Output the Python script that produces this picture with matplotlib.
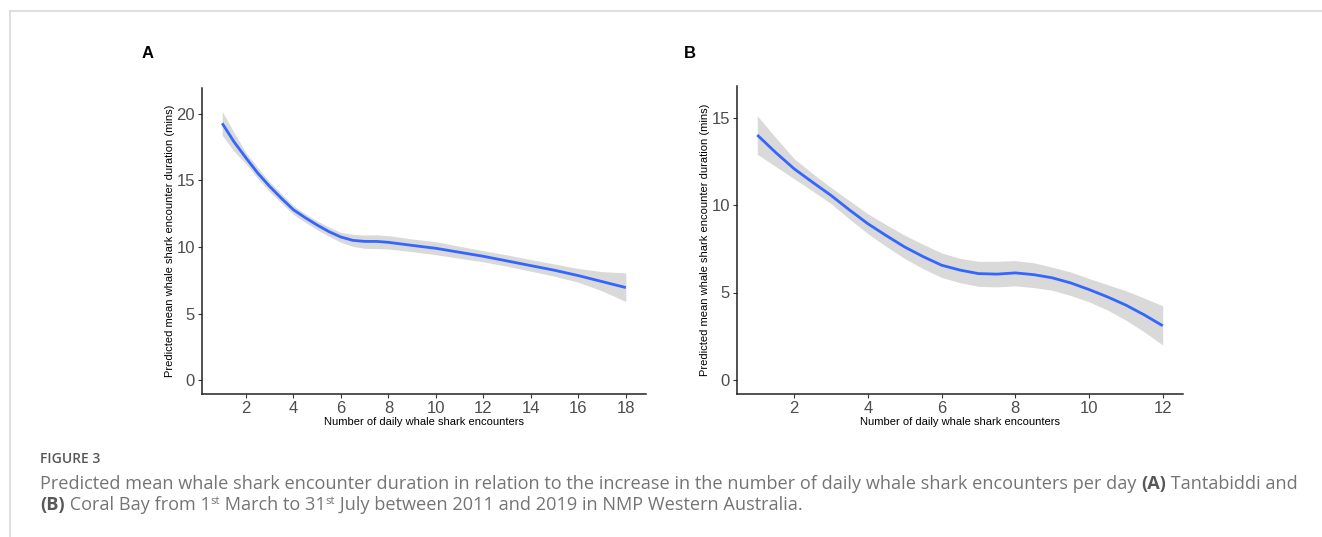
import matplotlib.pyplot as plt
from matplotlib.lines import Line2D

# Panel A - Tantabiddi
xa = [1, 1.5, 2, 2.5, 3, 3.5, 4, 4.5, 5, 5.5, 6, 6.5, 7, 7.5, 8, 9, 10, 11, 12, 13, 14, 15, 16, 17, 18]
ya = [19.3, 17.9, 16.7, 15.55, 14.55, 13.65, 12.8, 12.2, 11.65, 11.15, 10.75, 10.5, 10.42, 10.42, 10.35,
      10.12, 9.9, 9.6, 9.3, 8.95, 8.6, 8.25, 7.85, 7.4, 6.95]
ya_hi = [20.2, 18.6, 17.1, 15.95, 14.9, 14.0, 13.1, 12.5, 11.95, 11.5, 11.1, 10.95, 10.9, 10.92, 10.85,
         10.6, 10.4, 10.05, 9.72, 9.4, 9.05, 8.72, 8.38, 8.15, 8.05]
ya_lo = [18.4, 17.2, 16.25, 15.15, 14.15, 13.3, 12.45, 11.85, 11.3, 10.8, 10.35, 10.05, 9.9, 9.88, 9.85,
         9.65, 9.42, 9.15, 8.88, 8.55, 8.18, 7.8, 7.35, 6.7, 5.9]

# Panel B - Coral Bay
xb = [1, 1.5, 2, 2.5, 3, 3.5, 4, 4.5, 5, 5.5, 6, 6.5, 7, 7.5, 8, 8.5, 9, 9.5, 10, 10.5, 11, 11.5, 12]
yb = [14.0, 13.0, 12.07, 11.3, 10.55, 9.72, 8.93, 8.25, 7.6, 7.05, 6.56, 6.28, 6.08, 6.05, 6.12, 6.02,
      5.84, 5.55, 5.17, 4.75, 4.28, 3.72, 3.1]
yb_hi = [15.1, 13.85, 12.65, 11.8, 11.0, 10.25, 9.5, 8.87, 8.27, 7.75, 7.26, 6.95, 6.78, 6.78, 6.82, 6.7,
         6.45, 6.17, 5.8, 5.45, 5.1, 4.68, 4.24]
yb_lo = [12.9, 12.2, 11.5, 10.8, 10.08, 9.2, 8.36, 7.63, 6.94, 6.36, 5.86, 5.56, 5.35, 5.32, 5.38, 5.28,
         5.13, 4.83, 4.47, 4.0, 3.42, 2.75, 2.0]

xticks_a = [2, 4, 6, 8, 10, 12, 14, 16, 18]
yticks_a = [0, 5, 10, 15, 20]
xticks_b = [2, 4, 6, 8, 10, 12]
yticks_b = [0, 5, 10, 15]

xlabel = "Number of daily whale shark encounters"
ylabel = "Predicted mean whale shark encounter duration (mins)"

plt.rcParams['font.family'] = ['Liberation Sans', 'DejaVu Sans']

W, H = 1322, 537
fig = plt.figure(figsize=(W / 100, H / 100), dpi=100)


def box(l, t, r, b):
    return [l / W, 1 - b / H, (r - l) / W, (b - t) / H]


def panel(rect, x, y, lo, hi, xt, yt, xlim, ylim):
    ax = fig.add_axes(rect)
    ax.fill_between(x, lo, hi, color='#D9D9D9', lw=0)
    ax.plot(x, y, color='#3366FF', lw=2.0, solid_capstyle='butt')
    ax.set_xlim(*xlim)
    ax.set_ylim(*ylim)
    ax.set_xticks(xt)
    ax.set_yticks(yt)
    ax.spines[['top', 'right']].set_visible(False)
    for s in ['left', 'bottom']:
        ax.spines[s].set_linewidth(1.1)
        ax.spines[s].set_color('#222222')
    ax.tick_params(length=3, width=0.8, color='#333333', labelcolor='#4D4D4D', labelsize=12, pad=2)
    ax.set_xlabel(xlabel, fontsize=8, color='black', labelpad=1)
    ax.set_ylabel(ylabel, fontsize=8, color='black', labelpad=1)
    return ax


panel(box(202, 88, 646, 394), xa, ya, ya_lo, ya_hi, xticks_a, yticks_a, (0.15, 18.85), (-1.05, 21.95))
panel(box(737, 86, 1183, 394), xb, yb, yb_lo, yb_hi, xticks_b, yticks_b, (0.45, 12.55), (-0.8, 16.8))

fig.text(148 / W, 1 - 54 / H, 'A', fontsize=12, fontweight='bold', ha='center', va='center')
fig.text(690 / W, 1 - 53 / H, 'B', fontsize=12, fontweight='bold', ha='center', va='center')

# outer frame lines
fig.add_artist(Line2D([10 / W, 1], [1 - 11 / H] * 2, color='#D9D9D9', lw=1.2))
fig.add_artist(Line2D([10 / W] * 2, [0, 1 - 11 / H], color='#D9D9D9', lw=1.2))

# caption
cap_font = ['Open Sans', 'DejaVu Sans']
cap_col = '#747474'
fig.text(40 / W, 1 - 463 / H, 'FIGURE 3', fontsize=10, fontweight='semibold', color='#585858',
         family=cap_font, va='baseline')

line1 = [("Predicted mean whale shark encounter duration in relation to the increase in the number of daily whale shark encounters per day ", 'normal', 0),
         ("(A)", 'bold', 0), (" Tantabiddi and", 'normal', 0)]
line2 = [("(B)", 'bold', 0), (" Coral Bay from 1", 'normal', 0), ("st", 'normal', 1),
         (" March to 31", 'normal', 0), ("st", 'normal', 1),
         (" July between 2011 and 2019 in NMP Western Australia.", 'normal', 0)]

fig.canvas.draw()
renderer = fig.canvas.get_renderer()

# fit caption size so that line 1 spans the same width as in the reference
probe = fig.text(0, 0, line1[0][0] + line1[1][0] + line1[2][0], fontsize=10, family=cap_font)
cap_size = 10 * 1258 / probe.get_window_extent(renderer).width
probe.remove()


def write_line(parts, ybase):
    x = 40
    for txt, wt, sup in parts:
        size = cap_size * 0.62 if sup else cap_size
        yy = ybase - (6 if sup else 0)
        col = '#585858' if wt == 'bold' else cap_col
        t = fig.text(x / W, 1 - yy / H, txt, fontsize=size, fontweight=wt, color=col,
                     family=cap_font, va='baseline')
        x += t.get_window_extent(renderer).width


write_line(line1, 489)
write_line(line2, 510)

fig.savefig('out.png', dpi=100)
